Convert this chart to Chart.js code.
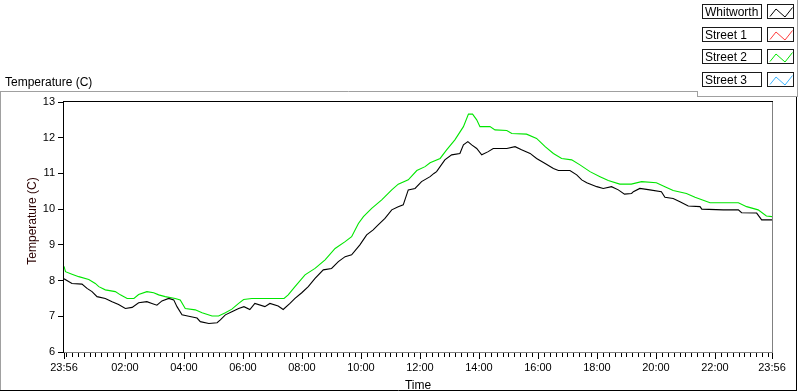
<!DOCTYPE html>
<html><head><meta charset="utf-8">
<script src="https://cdn.jsdelivr.net/npm/chart.js@4.4.0/dist/chart.umd.min.js"></script>
<style>html,body{margin:0;padding:0;background:#fff;}canvas{display:block;}</style>
</head><body>
<canvas id="c" width="800" height="392"></canvas>
<script>
// ---- data (time = hours since 23:56 of the previous day) ----
const seriesNames = ["Whitworth", "Street 1", "Street 2", "Street 3"];
const whitworthTimes = [0, 0.27, 0.61, 0.78, 0.95, 1.12, 1.4, 1.63, 1.85, 2.08, 2.31, 2.53, 2.81, 2.98, 3.15, 3.32, 3.55, 3.72, 3.83, 4.0, 4.23, 4.51, 4.62, 4.91, 5.19, 5.3, 5.47, 5.69, 5.92, 6.1, 6.3, 6.47, 6.81, 6.98, 7.26, 7.43, 7.66, 7.83, 8.06, 8.28, 8.51, 8.79, 9.07, 9.3, 9.53, 9.75, 10.03, 10.26, 10.48, 10.65, 10.88, 11.11, 11.33, 11.5, 11.67, 11.9, 12.12, 12.41, 12.54, 12.63, 12.91, 13.14, 13.42, 13.54, 13.69, 13.82, 13.99, 14.16, 14.38, 14.55, 15.01, 15.29, 15.51, 15.8, 16.02, 16.31, 16.59, 16.76, 17.15, 17.38, 17.55, 17.72, 18.06, 18.28, 18.56, 18.79, 19.0, 19.24, 19.3, 19.52, 19.86, 20.25, 20.37, 20.65, 20.88, 21.16, 21.56, 21.62, 22.35, 22.86, 22.97, 23.48, 23.65, 24.0];
const whitworthTemps = [8.05, 7.92, 7.9, 7.78, 7.69, 7.55, 7.5, 7.41, 7.33, 7.22, 7.25, 7.38, 7.41, 7.36, 7.31, 7.43, 7.5, 7.46, 7.27, 7.04, 7.0, 6.95, 6.85, 6.8, 6.82, 6.9, 7.04, 7.13, 7.22, 7.27, 7.19, 7.36, 7.27, 7.36, 7.29, 7.19, 7.36, 7.5, 7.66, 7.83, 8.06, 8.3, 8.34, 8.53, 8.67, 8.72, 9.0, 9.28, 9.42, 9.56, 9.74, 9.98, 10.07, 10.12, 10.54, 10.58, 10.77, 10.91, 11.0, 11.05, 11.38, 11.52, 11.56, 11.8, 11.89, 11.8, 11.7, 11.52, 11.61, 11.7, 11.7, 11.75, 11.66, 11.56, 11.42, 11.28, 11.14, 11.08, 11.08, 10.96, 10.82, 10.74, 10.63, 10.58, 10.63, 10.54, 10.42, 10.44, 10.49, 10.58, 10.54, 10.49, 10.33, 10.3, 10.21, 10.09, 10.07, 10.0, 9.98, 9.98, 9.9, 9.89, 9.7, 9.7];
const street1Times = [];
const street1Temps = [];
const street2Times = [0, 0.05, 0.27, 0.5, 0.84, 1.06, 1.18, 1.4, 1.74, 1.91, 2.14, 2.37, 2.53, 2.81, 3.04, 3.21, 3.43, 3.77, 3.94, 4.11, 4.45, 4.68, 5.02, 5.24, 5.47, 5.69, 5.92, 6.09, 6.37, 7.46, 7.6, 7.83, 8.17, 8.51, 8.85, 9.19, 9.53, 9.75, 9.98, 10.15, 10.43, 10.77, 11.11, 11.33, 11.67, 11.96, 12.24, 12.41, 12.75, 12.97, 13.25, 13.54, 13.71, 13.85, 13.99, 14.1, 14.44, 14.61, 15.01, 15.18, 15.68, 16.02, 16.31, 16.59, 16.87, 17.21, 17.49, 17.83, 18.17, 18.45, 18.84, 19.23, 19.58, 20.08, 20.37, 20.65, 21.1, 21.39, 21.9, 22.86, 23.14, 23.53, 23.81, 24.0];
const street2Temps = [8.4, 8.25, 8.18, 8.11, 8.03, 7.92, 7.83, 7.74, 7.69, 7.6, 7.5, 7.5, 7.61, 7.69, 7.66, 7.6, 7.55, 7.5, 7.46, 7.22, 7.18, 7.1, 7.01, 7.01, 7.1, 7.2, 7.36, 7.47, 7.5, 7.5, 7.6, 7.83, 8.16, 8.34, 8.58, 8.9, 9.09, 9.23, 9.6, 9.79, 10.02, 10.26, 10.54, 10.7, 10.82, 11.08, 11.19, 11.3, 11.42, 11.66, 11.94, 12.31, 12.66, 12.66, 12.5, 12.31, 12.31, 12.22, 12.2, 12.12, 12.1, 11.98, 11.75, 11.56, 11.42, 11.38, 11.24, 11.05, 10.91, 10.8, 10.7, 10.7, 10.77, 10.74, 10.63, 10.52, 10.44, 10.33, 10.18, 10.18, 10.07, 9.98, 9.81, 9.79];
const street3Times = [];
const street3Temps = [];
const xTickLabels = ["23:56", "02:00", "04:00", "06:00", "08:00", "10:00", "12:00", "14:00", "16:00", "18:00", "20:00", "22:00", "23:56"];
const yTickValues = [6, 7, 8, 9, 10, 11, 12, 13];
const chartTitle = "Temperature (C)";
const yAxisTitle = "Temperature (C)";
const xAxisTitle = "Time";
const seriesColors = ["#000000", "#ff3c3c", "#00e600", "#3cb4ff"];

// ---- derived ----
const ORIGIN_MIN = 23 * 60 + 56;
function labelToHours(lbl, i) {
  if (i === xTickLabels.length - 1) return 24;
  const [h, m] = lbl.split(":").map(Number);
  return ((h * 60 + m - ORIGIN_MIN + 1440) % 1440) / 60;
}
const xTickValues = xTickLabels.map(labelToHours);
const MINOR_STEP = 0.2; // 12 minutes
const minorTicks = [0, 24];
for (let v = 1 / 15; v < 24; v += MINOR_STEP) minorTicks.push(v);

const seriesTimes = [whitworthTimes, street1Times, street2Times, street3Times];
const seriesTemps = [whitworthTemps, street1Temps, street2Temps, street3Temps];
const FONT = '"Liberation Sans", Arial, sans-serif';

const datasets = seriesNames.map((name, i) => ({
  label: name,
  data: seriesTimes[i].map((t, j) => ({ x: t, y: seriesTemps[i][j] })),
  borderColor: seriesColors[i],
  backgroundColor: seriesColors[i],
  borderWidth: 1.1,
  pointRadius: 0,
  tension: 0,
  fill: false
}));

function hline(ctx, x1, x2, y, c) { ctx.strokeStyle = c; ctx.beginPath(); ctx.moveTo(x1, y); ctx.lineTo(x2, y); ctx.stroke(); }
function vline(ctx, x, y1, y2, c) { ctx.strokeStyle = c; ctx.beginPath(); ctx.moveTo(x, y1); ctx.lineTo(x, y2); ctx.stroke(); }

const decorPlugin = {
  id: 'decor',
  beforeDraw(chart) {
    const ctx = chart.ctx;
    ctx.save();
    ctx.fillStyle = '#fff';
    ctx.fillRect(0, 0, chart.width, chart.height);
    ctx.restore();
  },
  afterDraw(chart) {
    const ctx = chart.ctx, a = chart.chartArea, xs = chart.scales.x;
    ctx.save();
    ctx.lineWidth = 1;
    // outer panel frame
    hline(ctx, 0, 697, 91.5, '#a0a0a0');
    vline(ctx, 697.5, 91, 97, '#a0a0a0');
    hline(ctx, 697, 798, 96.5, '#a0a0a0');
    vline(ctx, 797.5, 0, 97, '#a0a0a0');
    vline(ctx, 0.5, 91, 391, '#a0a0a0');
    hline(ctx, 0, 797, 390.5, '#000');
    vline(ctx, 796.5, 97, 391, '#000');
    // plot frame
    hline(ctx, a.left - 1, a.right + 1, a.top - 0.5, '#000');
    vline(ctx, a.left - 0.5, a.top - 1, a.bottom + 1, '#000');
    vline(ctx, a.right + 0.5, a.top, a.bottom + 1, '#808080');
    hline(ctx, a.left, a.right + 1, a.bottom + 0.5, '#808080');
    // x tick marks
    ctx.strokeStyle = '#000';
    ctx.beginPath();
    minorTicks.forEach(v => {
      const px = Math.round(xs.getPixelForValue(v)) + 0.5;
      ctx.moveTo(px, a.bottom + 1); ctx.lineTo(px, a.bottom + 5);
    });
    xTickValues.forEach(v => {
      const px = Math.round(xs.getPixelForValue(v)) + 0.5;
      ctx.moveTo(px, a.bottom + 1); ctx.lineTo(px, a.bottom + 7);
    });
    ctx.stroke();
    // titles
    ctx.fillStyle = '#000';
    ctx.font = '12px ' + FONT;
    ctx.textBaseline = 'alphabetic';
    ctx.textAlign = 'left';
    ctx.fillText(chartTitle, 5, 86);
    ctx.textAlign = 'center';
    ctx.fillText(xAxisTitle, (a.left + a.right) / 2, 389);
    ctx.save();
    ctx.translate(36, 221);
    ctx.rotate(-Math.PI / 2);
    ctx.fillStyle = '#2a0000';
    ctx.fillText(yAxisTitle, 0, 0);
    ctx.restore();
    // legend
    chart.data.datasets.forEach((ds, i) => {
      const top = Math.round(4 + i * 22.67) + 0.5;
      ctx.strokeStyle = '#1a1a1a';
      ctx.strokeRect(702.5, top, 59, 14);
      ctx.strokeRect(767.5, top, 26, 14);
      ctx.fillStyle = '#000';
      ctx.textAlign = 'left';
      ctx.font = '12px ' + FONT;
      ctx.fillText(ds.label, 705, top + 11.5);
      ctx.strokeStyle = ds.borderColor;
      ctx.beginPath();
      ctx.moveTo(770, top + 12); ctx.lineTo(776, top + 4.5);
      ctx.lineTo(785, top + 12.5); ctx.lineTo(792.5, top + 3);
      ctx.stroke();
    });
    ctx.restore();
  }
};

new Chart(document.getElementById('c'), {
  type: 'line',
  data: { datasets },
  plugins: [decorPlugin],
  options: {
    responsive: false,
    animation: false,
    layout: { padding: { top: 102, right: 28, left: 0, bottom: 0 } },
    plugins: { legend: { display: false }, tooltip: { enabled: false }, title: { display: false } },
    scales: {
      x: {
        type: 'linear', min: 0, max: 24,
        afterFit: s => { s.height = 40; },
        afterBuildTicks: s => { s.ticks = xTickValues.map(v => ({ value: v })); },
        grid: { display: false },
        border: { display: false },
        ticks: {
          autoSkip: false, maxRotation: 0, minRotation: 0, padding: 1,
          color: '#000', font: { family: FONT, size: 11 },
          callback: (v, i) => xTickLabels[i]
        }
      },
      y: {
        min: 6, max: 13,
        afterFit: s => { s.width = 64; },
        afterBuildTicks: s => { s.ticks = yTickValues.map(v => ({ value: v })); },
        grid: { drawOnChartArea: false, drawTicks: true, tickLength: 6, color: '#000' },
        border: { display: false },
        ticks: { padding: 3, color: '#000', font: { family: FONT, size: 11 } }
      }
    }
  }
});
</script>
</body></html>
